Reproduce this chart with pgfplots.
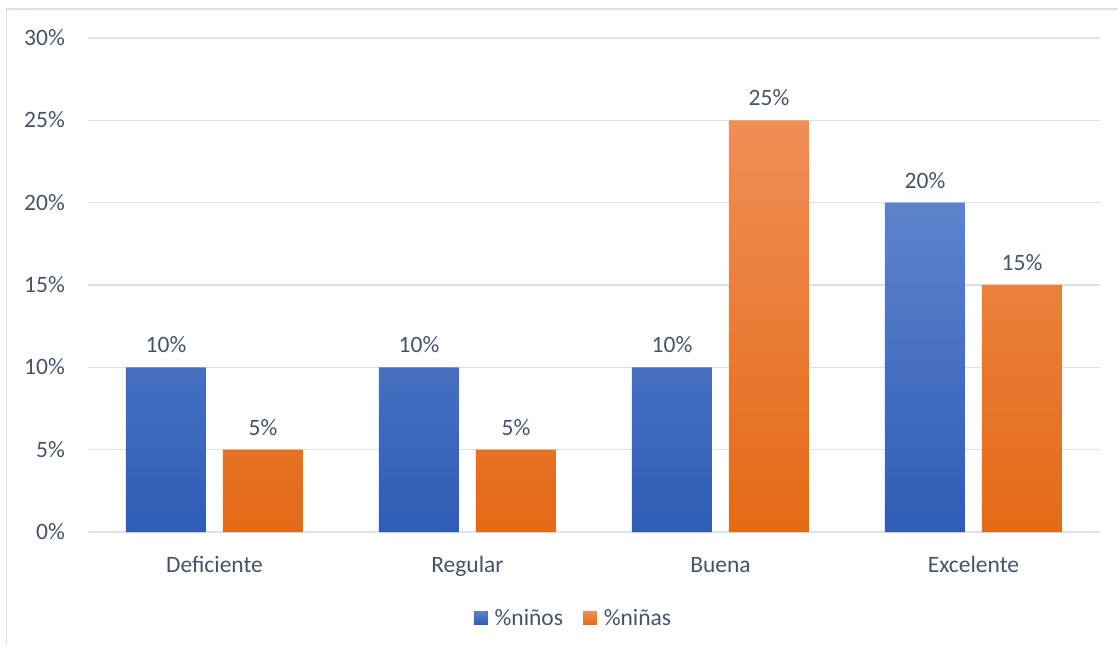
\documentclass[border=0pt]{standalone}
\usepackage{fontspec}
\setmainfont{Carlito}
\usepackage{pgfplots}
\pgfplotsset{compat=1.18}
\definecolor{txt}{RGB}{68,84,106}
\definecolor{gridc}{RGB}{221,226,232}
\definecolor{bluetop}{RGB}{93,131,203}
\definecolor{bluemid}{RGB}{68,114,196}
\definecolor{bluebot}{RGB}{46,93,182}
\definecolor{orgtop}{RGB}{240,142,86}
\definecolor{orgmid}{RGB}{243,124,44}
\definecolor{orgbot}{RGB}{228,106,22}
\newcommand{\cfont}{\fontsize{23.5}{28}\selectfont}
\begin{document}
\begin{tikzpicture}[x=1pt,y=1pt]
\path[use as bounding box] (0,0) rectangle (1118,645);
\draw[line width=1.5pt, color=gridc] (6.5,0) -- (6.5,636) -- (1118,636);
\begin{axis}[
  at={(88pt,113pt)}, anchor=south west, scale only axis,
  width=1012pt, height=494pt,
  xmin=-0.5, xmax=3.5, ymin=0, ymax=30,
  axis line style={draw=none},
  major tick length=0pt,
  ymajorgrids, grid style={color=gridc, line width=1.5pt},
  ytick={0,5,10,15,20,25,30},
  /pgf/number format/assume math mode=true,
  yticklabel={\pgfmathprintnumber{\tick}\%},
  yticklabel style={font=\cfont, text=txt, anchor=base east, inner sep=0pt, xshift=-23pt, yshift=-7.5pt},
  xtick={0,1,2,3},
  xticklabels={Deficiente,Regular,Buena,Excelente},
  xticklabel style={font=\cfont, text=txt, anchor=base, inner sep=0pt, yshift=-40.7pt},
  ybar=17pt,
  bar width=80pt,
  nodes near coords={\pgfmathprintnumber{\pgfplotspointmeta}\%},
  nodes near coords style={font=\cfont, text=txt, anchor=base, inner sep=0pt, yshift=14.5pt},
  clip=false,
  legend columns=2,
  legend style={at={(0.4788,-0.174)}, anchor=center, draw=none, fill=none,
    font=\cfont, text=txt, inner sep=0pt, nodes={inner sep=0pt},
    /tikz/every odd column/.style={column sep=7pt},
    /tikz/every even column/.style={column sep=20pt}},
  legend image code/.code={\fill[#1] (0pt,-6.85pt) rectangle (13.7pt,6.85pt);},
]
\addplot[draw=none, top color=bluetop, middle color=bluemid, bottom color=bluebot]
  coordinates {(0,10) (1,10) (2,10) (3,20)};
\addlegendentry{\%niños}
\addplot[draw=none, top color=orgtop, middle color=orgmid, bottom color=orgbot]
  coordinates {(0,5) (1,5) (2,25) (3,15)};
\addlegendentry{\%niñas}
\end{axis}
\end{tikzpicture}
\end{document}
